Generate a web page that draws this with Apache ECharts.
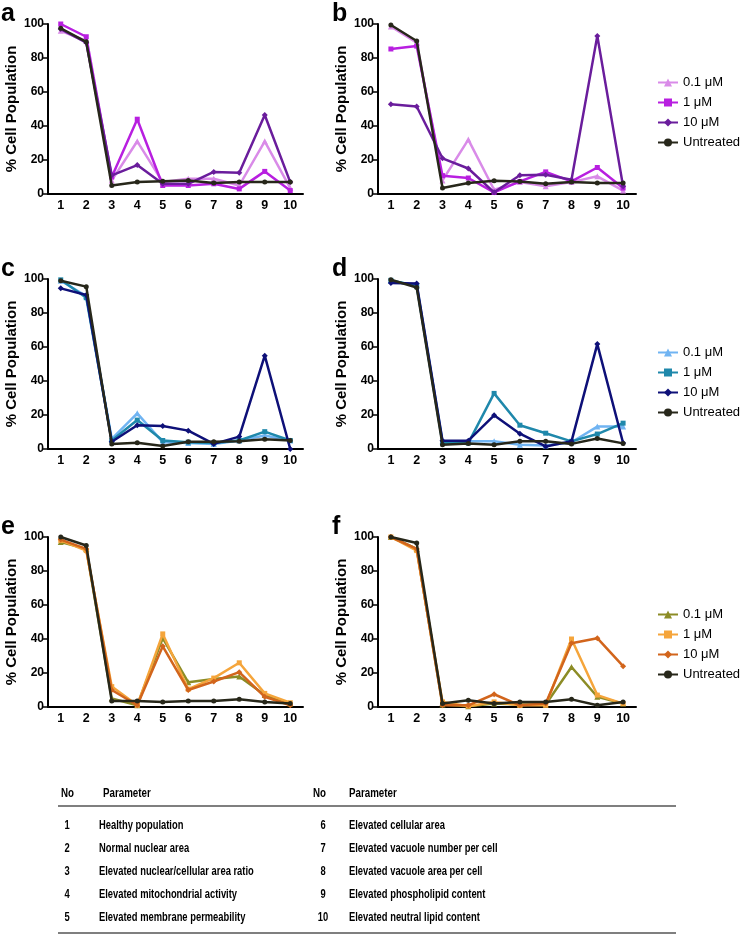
<!DOCTYPE html>
<html>
<head>
<meta charset="utf-8">
<script src="https://cdn.jsdelivr.net/npm/echarts@6/dist/echarts.min.js"></script>
<style>html,body{margin:0;padding:0;background:#fff}#c{width:742px;height:941px}</style>
</head>
<body>
<div id="c"></div>
<script>
// ---------- data ----------
const categories = ['1','2','3','4','5','6','7','8','9','10'];
const concLabels = ['0.1 μM','1 μM','10 μM','Untreated'];

// panel a
const a_01  = [96, 90, 8, 31, 7, 9, 9, 5, 31, 3.5];
const a_1   = [100, 92.5, 10, 44, 5, 5, 6, 3, 13.3, 2];
const a_10  = [97, 89, 11, 17, 6, 6, 13, 12.5, 46.5, 7];
const a_unt = [97.5, 89.5, 5, 7, 7.5, 8, 6.5, 7, 7, 7];
// panel b
const b_01  = [98.5, 89, 8, 32, 2.5, 7, 4.5, 7, 10.4, 2];
const b_1   = [85.3, 87, 10.8, 9.4, 1, 7.4, 13, 7.4, 15.6, 3.5];
const b_10  = [52.8, 51.5, 21, 15, 1, 11, 11.3, 8.4, 93, 4.5];
const b_unt = [99.4, 90, 3.5, 6.5, 7.8, 7.4, 6, 7, 6.5, 6.5];
// panel c
const c_01  = [99, 90, 6, 21, 4, 3.5, 3, 5, 8, 5];
const c_1   = [99.5, 89, 5, 17, 5, 4, 3.5, 5, 10.2, 5];
const c_10  = [94.5, 90.6, 4.3, 14, 13.5, 10.8, 3, 7.3, 54.9, 0];
const c_unt = [99, 95.5, 3, 3.7, 1.8, 4.3, 4.3, 4.5, 5.7, 5];
// panel d
const d_01  = [99, 96, 4.5, 4.5, 4.5, 2.5, 2, 4, 13.2, 13.2];
const d_1   = [99.2, 96, 3.5, 3.5, 32.7, 14, 9.3, 4.5, 8.8, 15.2];
const d_10  = [97.7, 97.3, 4.9, 4.9, 19.8, 9, 1.5, 4.5, 61.7, 3.5];
const d_unt = [99.6, 95, 2.5, 3.3, 2.5, 4.5, 4.5, 3, 6.2, 3.3];
// panel e
const e_01  = [97, 93, 5, 1, 40.5, 14.5, 16.5, 18, 7, 2];
const e_1   = [98, 92, 12, 1, 43, 10.5, 17, 26, 8, 2.5];
const e_10  = [98.5, 93, 10, 1, 35.7, 10, 15, 20.5, 6, 1];
const e_unt = [100, 95, 3.5, 3.5, 3, 3.5, 3.5, 4.5, 3, 2];
// panel f
const f_01  = [100, 93, 1.5, 0.5, 2, 1.5, 1.5, 23.5, 6, 2];
const f_1   = [100, 92, 3, 0.5, 3, 1, 1, 40, 7, 2];
const f_10  = [100, 93, 1, 1, 7.5, 1, 2, 37.5, 40.5, 24];
const f_unt = [100, 96.5, 2, 4, 2, 3, 3, 4.5, 1, 3];

const yTicks = [0, 20, 40, 60, 80, 100];
const panelLetters = ['a','b','c','d','e','f'];

const tableNos = ['1','2','3','4','5','6','7','8','9','10'];
const tableParams = [
  'Healthy population',
  'Normal nuclear area',
  'Elevated nuclear/cellular area ratio',
  'Elevated mitochondrial activity',
  'Elevated membrane permeability',
  'Elevated cellular area',
  'Elevated vacuole number per cell',
  'Elevated vacuole area per cell',
  'Elevated phospholipid content',
  'Elevated neutral lipid content'
];

// ---------- styling ----------
const FONT = '"Liberation Sans", Arial, sans-serif';
const UNT = '#27271a';
const palettes = [
  ['#d98be8', '#b81fe0', '#6a1d9c', UNT],
  ['#70b4f2', '#1f88ab', '#0e1078', UNT],
  ['#8c8c26', '#f5a53b', '#d2651c', UNT]
];
const symbols = ['triangle', 'rect', 'diamond', 'circle'];
const symSizes = [6, 5, 6, 5];

const panels = [
  [a_01, a_1, a_10, a_unt],
  [b_01, b_1, b_10, b_unt],
  [c_01, c_1, c_10, c_unt],
  [d_01, d_1, d_10, d_unt],
  [e_01, e_1, e_10, e_unt],
  [f_01, f_1, f_10, f_unt]
];

const leftX = [48, 378];
const widths = [255, 258];
const topsY = [24, 279, 537];
const H = 170;

const grids = [], xAxes = [], yAxes = [], series = [], graphics = [];
panels.forEach((p, i) => {
  const col = i % 2, row = Math.floor(i / 2);
  grids.push({left: leftX[col], top: topsY[row], width: widths[col], height: H, containLabel: false});
  xAxes.push({
    type: 'category', gridIndex: i, data: categories, boundaryGap: true,
    axisLine: {lineStyle: {color: '#000', width: 2}},
    axisTick: {alignWithLabel: true, length: 5, lineStyle: {color: '#000', width: 1.5}},
    axisLabel: {color: '#000', fontWeight: 'bold', fontSize: 12.5, fontFamily: FONT, margin: 5, interval: 0}
  });
  yAxes.push({
    type: 'value', gridIndex: i, min: 0, max: 100, interval: 20,
    name: '% Cell Population', nameLocation: 'middle', nameGap: 29,
    nameTextStyle: {color: '#000', fontWeight: 'bold', fontSize: 15, fontFamily: FONT},
    axisLine: {show: true, lineStyle: {color: '#000', width: 2}},
    axisTick: {show: true, length: 5, lineStyle: {color: '#000', width: 1.5}},
    axisLabel: {color: '#000', fontWeight: 'bold', fontSize: 12, fontFamily: FONT, margin: 4,
      formatter: v => yTicks.includes(v) ? String(v) : ''},
    splitLine: {show: false}
  });
  const pal = palettes[row];
  p.forEach((vals, k) => {
    series.push({
      type: 'line', name: 'P' + row + ':' + concLabels[k],
      xAxisIndex: i, yAxisIndex: i, data: vals,
      symbol: symbols[k], symbolSize: symSizes[k],
      lineStyle: {color: pal[k], width: 2.5},
      itemStyle: {color: pal[k]},
      z: 2 + k, animation: false
    });
  });
  graphics.push({
    type: 'text', left: col === 0 ? 1 : 332, top: topsY[row] - 22,
    style: {text: panelLetters[i], font: 'bold 25px ' + FONT, fill: '#000'}
  });
});

const legendTops = [71, 341, 603];
const legends = legendTops.map((t, row) => ({
  orient: 'vertical', left: 652, top: t, itemWidth: 20, itemHeight: 10, itemGap: 7,
  data: concLabels.map(c => 'P' + row + ':' + c),
  formatter: n => n.split(':')[1],
  textStyle: {color: '#000', fontSize: 13, fontFamily: FONT},
  selectedMode: false
}));

// ---------- table ----------
const TF = '"Liberation Sans", Arial, sans-serif';
const SX = 0.75;
const tLeft = 58, tRight = 676;
const headerY = 793, line1 = 806, line2 = 933, row0 = 826, rowStep = 23;
graphics.push({type: 'line', shape: {x1: tLeft, y1: line1, x2: tRight, y2: line1}, style: {stroke: '#555', lineWidth: 1.5}});
graphics.push({type: 'line', shape: {x1: tLeft, y1: line2, x2: tRight, y2: line2}, style: {stroke: '#555', lineWidth: 1.5}});
function tText(x, y, t, size, align) {
  graphics.push({type: 'text', x: x, y: y, scaleX: SX, originX: 0, originY: 0,
    style: {text: t, font: 'bold ' + size + 'px ' + TF, fill: '#000', textAlign: align || 'left', textVerticalAlign: 'middle'}});
}
[[61, 'No'], [103, 'Parameter'], [313, 'No'], [349, 'Parameter']].forEach(([x, t]) => tText(x, headerY, t, 13));
tableNos.forEach((n, j) => {
  const c = j < 5 ? 0 : 1, r = j % 5;
  const y = row0 + r * rowStep;
  tText(c === 0 ? 67 : 323, y, n, 12.5, 'center');
  tText(c === 0 ? 99 : 349, y, tableParams[j], 12.5);
});

const chart = echarts.init(document.getElementById('c'), null, {renderer: 'canvas'});
chart.setOption({
  animation: false,
  backgroundColor: '#fff',
  grid: grids, xAxis: xAxes, yAxis: yAxes, series: series,
  legend: legends, graphic: graphics
});
</script>
</body>
</html>
